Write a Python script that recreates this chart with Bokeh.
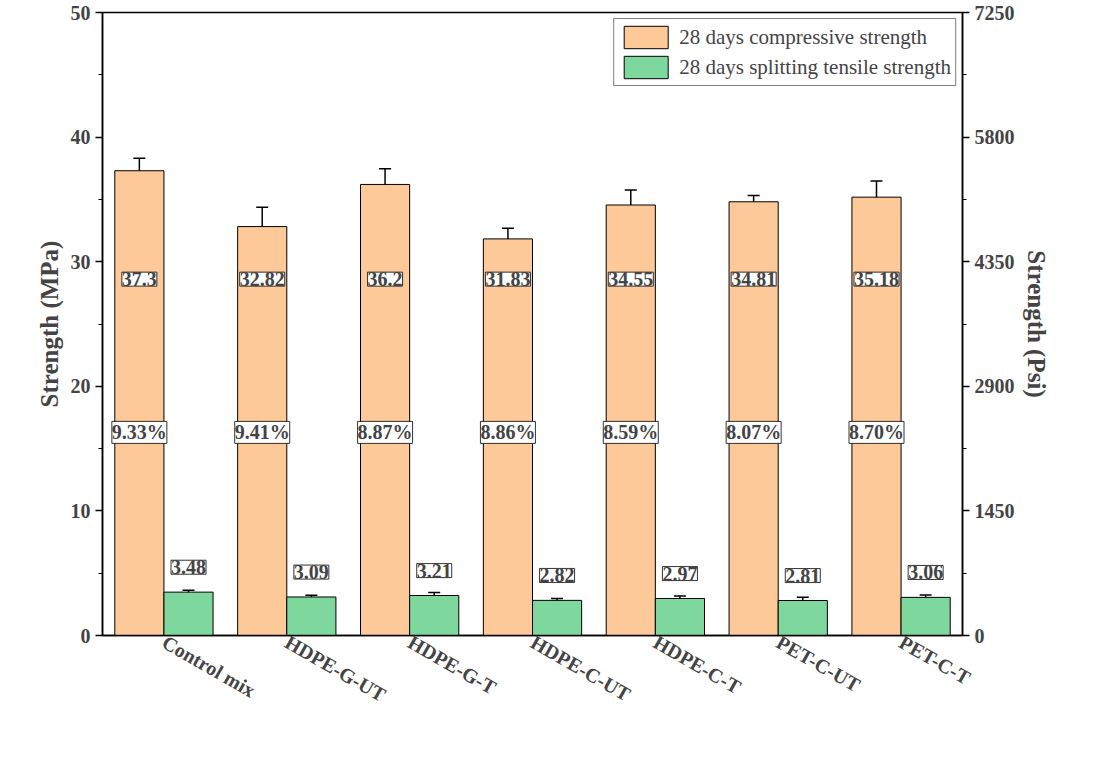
from bokeh.plotting import figure
from bokeh.models import Range1d, LinearAxis, FixedTicker, ColumnDataSource, LabelSet, Whisker, Legend, LegendItem
from bokeh.embed import file_html
from bokeh.resources import INLINE

cats = ["Control mix","HDPE-G-UT","HDPE-G-T","HDPE-C-UT","HDPE-C-T","PET-C-UT","PET-C-T"]
comp = [37.3,32.82,36.2,31.83,34.55,34.81,35.18]
comp_err = [1.0,1.55,1.25,0.85,1.2,0.5,1.3]
tens = [3.48,3.09,3.21,2.82,2.97,2.81,3.06]
tens_err = [0.15,0.15,0.25,0.15,0.2,0.25,0.2]
ratio = ["9.33%","9.41%","8.87%","8.86%","8.59%","8.07%","8.70%"]

F = "Liberation Serif"
xc = [i+0.5 for i in range(len(cats))]
p = figure(width=1095, height=754, output_backend="svg", toolbar_location=None,
           x_range=Range1d(0,7), y_range=Range1d(0,50),
           min_border_left=102, min_border_right=133, min_border_top=12, min_border_bottom=119)
p.grid.visible=False
p.outline_line_color="black"; p.outline_line_width=1.5

s = ColumnDataSource(dict(xo=[x-0.2 for x in xc], xg=[x+0.2 for x in xc], c=comp, t=tens,
    cu=[a+b for a,b in zip(comp,comp_err)], cl=[a-b for a,b in zip(comp,comp_err)],
    tu=[a+b for a,b in zip(tens,tens_err)], tl=[a-b for a,b in zip(tens,tens_err)],
    cs=[str(v) for v in comp], ts=["%.2f"%v for v in tens], r=ratio,
    yc=[28.6]*7, yr=[16.3]*7, yt=[v+2.0 for v in tens]))
r1=p.vbar(x="xo", top="c", width=0.4, source=s, fill_color="#FDC998", line_color="black")
r2=p.vbar(x="xg", top="t", width=0.4, source=s, fill_color="#7ED79D", line_color="black")
for base,u,l in [("xo","cu","cl"),("xg","tu","tl")]:
    w=Whisker(base=base, upper=u, lower=l, source=s, line_width=1.5, line_color="black")
    w.upper_head.size=12; w.lower_head.size=12
    w.upper_head.line_width=1.5; w.lower_head.line_width=1.5
    p.add_layout(w)
for x,y,t in [("xo","yc","cs"),("xo","yr","r"),("xg","yt","ts")]:
    p.add_layout(LabelSet(x=x,y=y,text=t,source=s,text_align="center",text_baseline="middle",
        text_font=F,text_font_style="bold",text_font_size="20px",background_fill_color="white",
        border_line_color="black",border_line_width=0.8))

p.xaxis.ticker=FixedTicker(ticks=xc)
p.xaxis.major_label_overrides={x:c for x,c in zip(xc,cats)}
p.xaxis.major_label_orientation=-0.52
p.yaxis.ticker=FixedTicker(ticks=[0,10,20,30,40,50], minor_ticks=[5,15,25,35,45])
p.yaxis.axis_label="Strength (MPa)"
p.extra_y_ranges={"psi":Range1d(0,7250)}
ra=LinearAxis(y_range_name="psi", axis_label="Strength (Psi)",
    ticker=FixedTicker(ticks=[0,1450,2900,4350,5800,7250], minor_ticks=[725,2175,3625,5075,6525]))
p.add_layout(ra,"right")
for ax in [p.xaxis[0], p.yaxis[0], ra]:
    ax.major_label_text_font=F; ax.major_label_text_font_style="bold"; ax.major_label_text_font_size="20px"
    ax.axis_label_text_font=F; ax.axis_label_text_font_style="bold"; ax.axis_label_text_font_size="25px"
    ax.axis_line_width=1.5; ax.major_tick_line_width=1.5; ax.major_tick_out=7; ax.major_tick_in=0
    ax.minor_tick_out=4; ax.minor_tick_in=0
p.xaxis.major_tick_out=0; p.xaxis.minor_tick_line_color=None

leg=Legend(items=[LegendItem(label="28 days compressive strength", renderers=[r1]),
                  LegendItem(label="28 days splitting tensile strength", renderers=[r2])],
           location="top_right", label_text_font=F, label_text_font_size="21px",
           border_line_color="black", glyph_width=55, glyph_height=28, spacing=2, padding=4, margin=6,
           label_standoff=6)
p.add_layout(leg)
open("out.html","w").write(file_html(p, INLINE))
